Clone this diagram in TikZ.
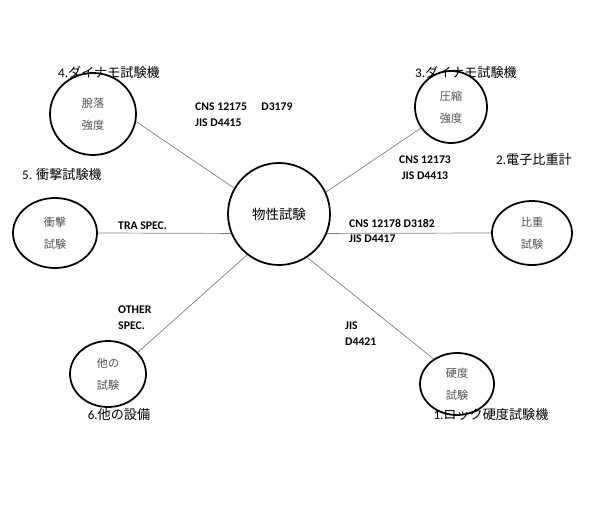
\documentclass[tikz,border=0pt]{standalone}
\usepackage{fontspec}
\setmainfont{Carlito}
\newfontfamily\cjk{Noto Sans CJK JP}
\usepackage{tikz}
\usetikzlibrary{shapes.geometric}
\definecolor{spokegrey}{HTML}{808080}
\definecolor{inkgrey}{HTML}{505050}
\tikzset{
  testbox/.style={ellipse, draw=black, line width=1.5pt, inner sep=0pt,
                  align=center, text=inkgrey,
                  font=\cjk\fontsize{9.5}{19}\selectfont},
  hubbox/.style={circle, draw=black, line width=1.5pt, inner sep=0pt,
                 minimum size=3.06cm, font=\cjk\fontsize{11.5}{14}\selectfont},
  spoke/.style={draw=spokegrey, line width=0.6pt},
  machine/.style={inner sep=0pt, font=\fontsize{11.2}{13}\selectfont},
  spec/.style={inner sep=0pt, align=left, font=\bfseries\fontsize{10}{13.6}\selectfont},
}

\begin{document}
\begin{tikzpicture}[x=0.03cm, y=-0.03cm]
\useasboundingbox (0,0) rectangle (589,508);

% ========================= test circles ==================================
\node[hubbox]                                             at (279,214) (hub)     {物性試験};
\node[testbox, minimum width=2.58cm, minimum height=2.46cm] at (93,114)  (dynL)    {脫落\\強度};
\node[testbox, minimum width=2.16cm, minimum height=2.16cm] at (451,107) (dynR)    {圧縮\\強度};
\node[testbox, minimum width=2.52cm, minimum height=2.10cm] at (55,233)  (impact)  {衝擊\\試験};
\node[testbox, minimum width=2.40cm, minimum height=1.92cm] at (532,233) (density) {比重\\試験};
\node[testbox, minimum width=2.28cm, minimum height=1.98cm] at (108,374) (other)   {他の\\試験};
\node[testbox, minimum width=2.22cm, minimum height=1.86cm] at (457,384) (hard)    {硬度\\試験};

% ========================= spokes ========================================
\draw[spoke] (dynL.-10)   -- (hub.150);
\draw[spoke] (dynR.215)   -- (hub.25);
\draw[spoke] (impact.east) -- (hub.202);
\draw[spoke] (density.west) -- (hub.-22);
\draw[spoke] (other.36)   -- (hub.232);
\draw[spoke] (hard.133)   -- (hub.-57);

% ========================= machine names =================================
\node[machine] at (109,72)  (mDynL)    {4.{\cjk ダイナモ試験機}};
\node[machine] at (466,72)  (mDynR)    {3.{\cjk ダイナモ試験機}};
\node[machine] at (534,160) (mDensity) {2.{\cjk 電子比重計}};
\node[machine] at (62,175)  (mImpact)  {5. {\cjk 衝撃試験機}};
\node[machine] at (119,415) (mOther)   {6.{\cjk 他の設備}};
\node[machine] at (491,415) (mHard)    {1.{\cjk ロック硬度試験機}};

% ========================= standards =====================================
\node[spec, anchor=west]               at (195,115)   (sDynL)    {CNS 12175\quad\ D3179\\JIS D4415};
\node[spec, align=center]              at (425,168)   (sDynR)    {CNS 12173\\JIS D4413};
\node[spec, anchor=west]               at (349,231)   (sDensity) {CNS 12178 D3182\\JIS D4417};
\node[spec, anchor=west]               at (118,226)   (sImpact)  {TRA SPEC.};
\node[spec, anchor=west]               at (118,317.5) (sOther)   {OTHER\\SPEC.};
\node[spec, anchor=west]               at (345,333.5) (sHard)    {JIS\\D4421};
\end{tikzpicture}
\end{document}
